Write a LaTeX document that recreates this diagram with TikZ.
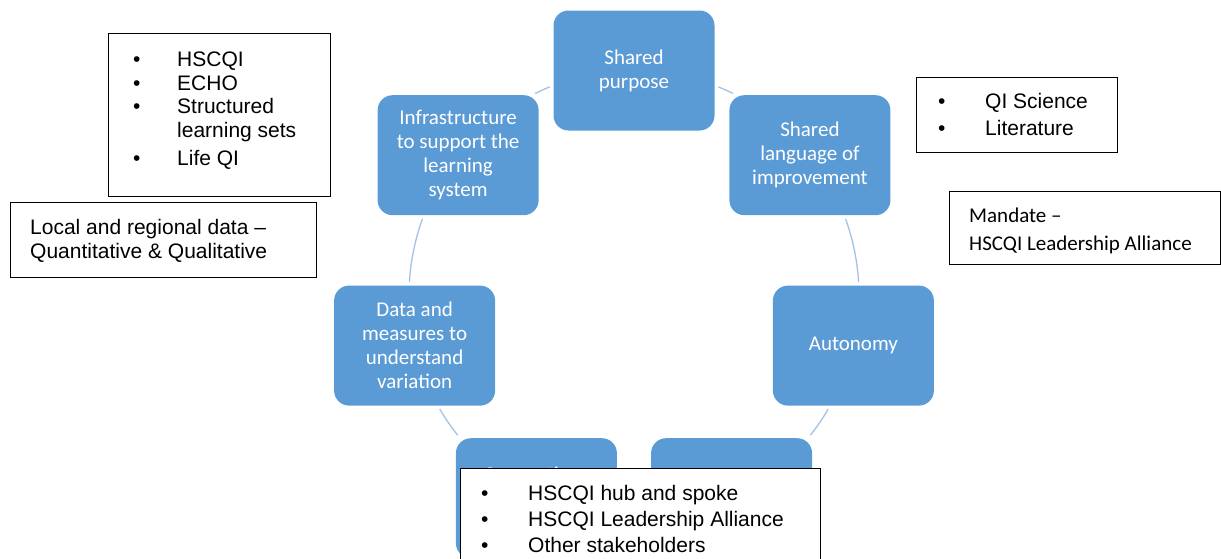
\documentclass[tikz,border=0pt]{standalone}
\usepackage{fontspec}
\setmainfont{Liberation Sans}
\newfontfamily\calfont{Carlito}
\definecolor{boxblue}{HTML}{5B9BD5}
\definecolor{arcblue}{HTML}{A3C2E6}
\begin{document}
\begin{tikzpicture}[x=1pt,y=-1pt,
  blk/.style={rectangle, rounded corners=15pt, fill=boxblue, text=white,
    font=\calfont\fontsize{21}{24}\selectfont, align=center,
    minimum width=161pt, minimum height=120pt, inner sep=4pt},
  cyc/.style={draw=arcblue, line width=1.3pt},
  note/.style={draw=black, line width=1pt, fill=white, rectangle, inner sep=0pt},
  ntext/.style={anchor=base west, inner sep=0pt, align=left},
]
\clip (0,0) rectangle (1221,558);
\useasboundingbox (0,0) rectangle (1221,558);
\coordinate (O) at (634,295.5);
% cycle arcs (parts of one circle round O, between the boxes)
\draw[cyc] (O) ++(-68.0:225) arc[start angle=-68.0, end angle=-63.9, radius=225];
\draw[cyc] (O) ++(-19.9:225) arc[start angle=-19.9, end angle=-3.5, radius=225];
\draw[cyc] (O) ++(30.3:225) arc[start angle=30.3, end angle=38.4, radius=225];
\draw[cyc] (O) ++(86.6:225) arc[start angle=86.6, end angle=93.4, radius=225];
\draw[cyc] (O) ++(141.6:225) arc[start angle=141.6, end angle=149.7, radius=225];
\draw[cyc] (O) ++(-160.1:225) arc[start angle=-160.1, end angle=-176.5, radius=225];
\draw[cyc] (O) ++(-112.0:225) arc[start angle=-112.0, end angle=-116.1, radius=225];
% cycle boxes
\node[blk] (P)  at (634,70.5)  {\rule{0pt}{4pt}Shared\\purpose};
\node[blk] (L)  at (809.9,155.2) {\rule{0pt}{4pt}Shared\\language of\\improvement};
\node[blk] (A)  at (853.4,345.6) {\rule{0pt}{4pt}Autonomy};
\node[blk] (BR) at (731.6,498.2) {};
\node[blk] (BL) at (536.4,498.2) {Connections\\\phantom{x}\\\phantom{x}};
\node[blk] (D)  at (414.6,345.6) {\rule{0pt}{4pt}Data and\\measures to\\understand\\variation};
\node[blk] (I)  at (458.1,155.2) {\rule{0pt}{4pt}Infrastructure\\to support the\\learning\\system};
% note boxes
\node[note, anchor=north west, minimum width=222pt, minimum height=163pt] (n1) at (108,33) {};
\node[ntext, font=\fontsize{21}{23.5}\selectfont] (t1) at (133,165) {\makebox[44pt][l]{\textbullet}HSCQI\\
\makebox[44pt][l]{\textbullet}ECHO\\
\makebox[44pt][l]{\textbullet}Structured\\
\hspace*{44pt}learning sets\\[4.5pt]
\makebox[44pt][l]{\textbullet}Life QI};
\node[note, anchor=north west, minimum width=306pt, minimum height=75pt] (n2) at (10,202) {};
\node[ntext, font=\fontsize{21}{24}\selectfont] (t2) at (30,258) {Local and regional data –\\Quantitative \& Qualitative};
\node[note, anchor=north west, minimum width=201pt, minimum height=75pt] (n3) at (916,77) {};
\node[ntext, font=\fontsize{21}{27}\selectfont] (t3) at (938,135) {\makebox[47pt][l]{\textbullet}QI Science\\
\makebox[47pt][l]{\textbullet}Literature};
\node[note, anchor=north west, minimum width=271pt, minimum height=73pt] (n4) at (949,191) {};
\node[ntext, font=\calfont\fontsize{21}{28}\selectfont] (t4) at (969,250) {Mandate –\\HSCQI Leadership Alliance};
\node[note, anchor=north west, minimum width=360pt, minimum height=120pt] (n5) at (460,468) {};
\node[ntext, font=\fontsize{21}{26}\selectfont] (t5) at (481,552) {\makebox[47pt][l]{\textbullet}HSCQI hub and spoke\\
\makebox[47pt][l]{\textbullet}HSCQI Leadership Alliance\\
\makebox[47pt][l]{\textbullet}Other stakeholders};
\end{tikzpicture}
\end{document}
